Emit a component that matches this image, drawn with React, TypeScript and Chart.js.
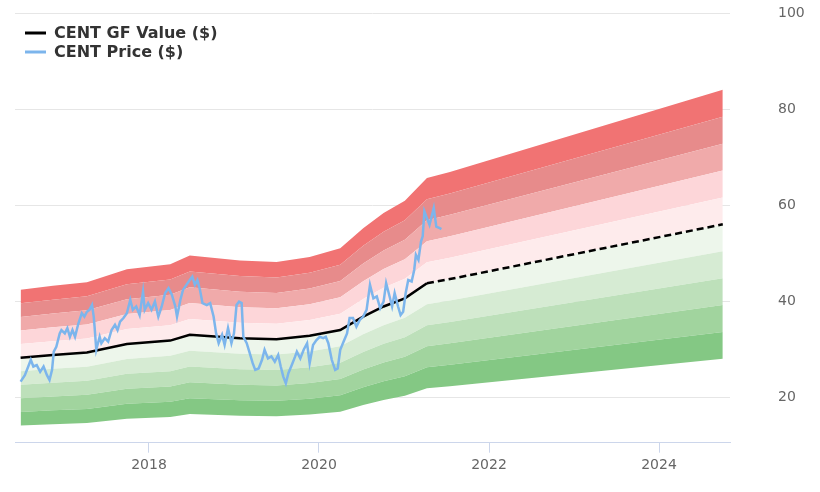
import { useEffect, useRef } from "react";
import { Chart, registerables } from "chart.js";

Chart.register(...registerables);

// GF Value (decimal years / $)
const gfDates = [2016.49, 2016.87, 2017.27, 2017.74, 2018.25, 2018.48, 2019.07, 2019.5, 2019.89, 2020.25, 2020.52, 2020.76, 2021.01, 2021.27, 2021.54, 2024.75];
const gfValues = [28.25, 28.8, 29.3, 31.1, 31.8, 33.0, 32.3, 32.1, 32.8, 34.0, 36.8, 38.9, 40.6, 43.75, 44.6, 56.0];
const projectionStart = 2021.27;

// CENT price (decimal years / $)
const priceDates = [
  2016.49, 2016.54, 2016.58, 2016.61, 2016.64, 2016.68, 2016.72, 2016.76, 2016.8, 2016.83,
  2016.86, 2016.88, 2016.91, 2016.95, 2016.97, 2017.01, 2017.04, 2017.07, 2017.1, 2017.13,
  2017.17, 2017.21, 2017.24, 2017.27, 2017.3, 2017.33, 2017.35, 2017.36, 2017.38, 2017.42,
  2017.44, 2017.48, 2017.52, 2017.56, 2017.6, 2017.63, 2017.66, 2017.7, 2017.74, 2017.78,
  2017.81, 2017.85, 2017.89, 2017.93, 2017.95, 2017.99, 2018.03, 2018.07, 2018.11, 2018.15,
  2018.19, 2018.23, 2018.27, 2018.31, 2018.33, 2018.37, 2018.4, 2018.44, 2018.48, 2018.51,
  2018.54, 2018.57, 2018.6, 2018.63, 2018.68, 2018.72, 2018.76, 2018.79, 2018.82, 2018.86,
  2018.89, 2018.93, 2018.97, 2019.0, 2019.03, 2019.06, 2019.09, 2019.11, 2019.15, 2019.18,
  2019.22, 2019.25, 2019.29, 2019.33, 2019.36, 2019.4, 2019.44, 2019.48, 2019.52, 2019.55,
  2019.58, 2019.61, 2019.64, 2019.68, 2019.72, 2019.74, 2019.78, 2019.82, 2019.86, 2019.89,
  2019.93, 2019.97, 2020.01, 2020.05, 2020.08, 2020.11, 2020.15, 2020.19, 2020.22, 2020.25,
  2020.29, 2020.33, 2020.36, 2020.4, 2020.44, 2020.48, 2020.52, 2020.56, 2020.6, 2020.64,
  2020.68, 2020.72, 2020.76, 2020.79, 2020.82, 2020.86, 2020.89, 2020.93, 2020.96, 2020.99,
  2021.02, 2021.05, 2021.09, 2021.12, 2021.14, 2021.17, 2021.2, 2021.22, 2021.24, 2021.27,
  2021.3, 2021.33, 2021.35, 2021.38, 2021.42, 2021.44,
];
const priceValues = [
  23.25, 24.6, 26.4, 27.8, 26.4, 26.7, 25.3, 26.4, 24.6, 23.6,
  25.7, 29.5, 30.5, 33.3, 34.0, 33.3, 34.4, 32.6, 34.0, 32.6,
  35.4, 37.5, 36.8, 37.8, 38.2, 39.2, 36.8, 34.7, 29.9, 32.6,
  31.25, 32.3, 31.6, 34.0, 35.1, 34.0, 35.75, 36.5, 37.5, 40.3,
  38.2, 38.9, 37.1, 42.0, 38.2, 39.6, 38.2, 39.9, 36.8, 38.9,
  41.7, 42.7, 41.3, 38.9, 36.8, 40.3, 42.35, 43.4, 44.4, 45.1,
  43.4, 44.4, 42.35, 39.6, 39.2, 39.6, 36.8, 33.3, 31.25, 33.0,
  30.9, 34.4, 31.25, 33.3, 39.2, 39.9, 39.6, 32.6, 31.25, 29.5,
  27.1, 25.7, 26.0, 27.8, 29.9, 28.1, 28.5, 27.4, 28.8, 26.4,
  24.3, 22.9, 25.0, 26.7, 28.5, 29.5, 28.1, 29.9, 31.25, 27.1,
  30.9, 31.9, 32.6, 32.3, 32.6, 31.25, 27.8, 25.7, 26.0, 29.9,
  31.6, 33.3, 36.5, 36.5, 34.7, 36.1, 36.8, 38.2, 43.4, 40.6,
  41.0, 38.5, 39.9, 43.75, 41.7, 38.9, 41.7, 38.9, 37.1, 37.8,
  41.7, 44.4, 44.1, 46.5, 49.65, 48.6, 52.4, 53.5, 58.7, 57.3,
  55.9, 58.0, 59.4, 55.5, 55.2, 55.0,
];

// valuation bands: multiples of GF Value, colours from lowest band to highest
const bandMultipliers = [0.5, 0.6, 0.7, 0.8, 0.9, 1.0, 1.1, 1.2, 1.3, 1.4, 1.5];
const bandColors = ["#84c884", "#a1d49e", "#bde0ba", "#d6ebd3", "#edf6eb", "#feebec", "#fdd6d9", "#f0aaaa", "#e78b8b", "#f17373"];

const xTickYears = [2018, 2020, 2022, 2024];
const yTickValues = [20, 40, 60, 80, 100];
const xRange = [2016.424, 2024.835];
const yRange = [10.54, 100];

const FONT = '"DejaVu Sans", sans-serif';

const legendPlugin = {
  id: "gfLegend",
  afterDraw(chart: any) {
    const ctx = chart.ctx;
    const items = chart.data.datasets
      .filter((d: any) => d.legendRank !== undefined)
      .sort((a: any, b: any) => a.legendRank - b.legendRank);
    ctx.save();
    items.forEach((d: any, i: number) => {
      const y = 33 + i * 19;
      ctx.strokeStyle = d.borderColor;
      ctx.lineWidth = 3;
      ctx.beginPath();
      ctx.moveTo(25, y);
      ctx.lineTo(46, y);
      ctx.stroke();
      ctx.fillStyle = "#333333";
      ctx.font = `bold 16px ${FONT}`;
      ctx.textBaseline = "middle";
      ctx.textAlign = "left";
      ctx.fillText(d.label, 54, y + 1);
    });
    ctx.restore();
  },
};

export default function App() {
  const ref = useRef<HTMLCanvasElement | null>(null);

  useEffect(() => {
    if (!ref.current) return;
    const gfPoints = gfDates.map((x, i) => ({ x, y: gfValues[i] }));
    const pricePoints = priceDates.map((x, i) => ({ x, y: priceValues[i] }));

    const bandSets = bandMultipliers.map((m, k) => ({
      label: `band ${m}`,
      data: gfDates.map((x, i) => ({ x, y: gfValues[i] * m })),
      borderWidth: 0,
      borderColor: "rgba(0,0,0,0)",
      pointRadius: 0,
      tension: 0,
      backgroundColor: k === 0 ? "rgba(0,0,0,0)" : bandColors[k - 1],
      fill: k === 0 ? false : "-1",
    }));

    const chart = new Chart(ref.current, {
      type: "line",
      data: {
        datasets: [
          {
            label: "CENT Price ($)",
            legendRank: 1,
            data: pricePoints,
            borderColor: "#7cb5ec",
            borderWidth: 2.5,
            pointRadius: 0,
            fill: false,
            tension: 0,
          } as any,
          {
            label: "CENT GF Value ($)",
            legendRank: 0,
            data: gfPoints,
            borderColor: "#000000",
            borderWidth: 2.5,
            pointRadius: 0,
            fill: false,
            tension: 0,
            segment: {
              borderDash: (c: any) => (c.p0.parsed.x >= projectionStart - 1e-6 ? [7, 4] : undefined),
            },
          } as any,
          ...bandSets,
        ],
      },
      options: {
        responsive: false,
        animation: false,
        events: [],
        layout: { padding: { left: 15, top: 13, right: 0, bottom: 0 } },
        plugins: {
          legend: { display: false },
          tooltip: { enabled: false },
        },
        scales: {
          x: {
            type: "linear",
            min: xRange[0],
            max: xRange[1],
            afterBuildTicks: (s: any) => {
              s.ticks = xTickYears.map((v) => ({ value: v }));
            },
            afterFit: (s: any) => {
              s.height = 49.3;
            },
            grid: {
              drawOnChartArea: false,
              drawTicks: true,
              tickLength: 10,
              color: "#ccd6eb",
            },
            border: { display: true, color: "#ccd6eb", width: 1 },
            ticks: {
              color: "#666666",
              font: { family: FONT, size: 14 },
              padding: 4,
              maxRotation: 0,
              callback: (v: any) => String(v),
            },
          },
          y: {
            type: "linear",
            position: "right",
            min: yRange[0],
            max: yRange[1],
            afterBuildTicks: (s: any) => {
              s.ticks = yTickValues.map((v) => ({ value: v }));
            },
            afterFit: (s: any) => {
              s.width = 90;
            },
            grid: { color: "#e6e6e6", drawTicks: true, tickLength: 48, tickColor: "rgba(0,0,0,0)", lineWidth: 1 },
            border: { display: false },
            ticks: {
              color: "#666666",
              font: { family: FONT, size: 14 },
              padding: 0,
              callback: (v: any) => String(v),
            },
          },
        },
      } as any,
      plugins: [legendPlugin],
    });
    return () => chart.destroy();
  }, []);

  return (
    <div style={{ position: "absolute", left: 0, top: 0, width: 820, height: 492, background: "#ffffff" }}>
      <canvas ref={ref} width={820} height={492} style={{ display: "block" }} />
    </div>
  );
}
